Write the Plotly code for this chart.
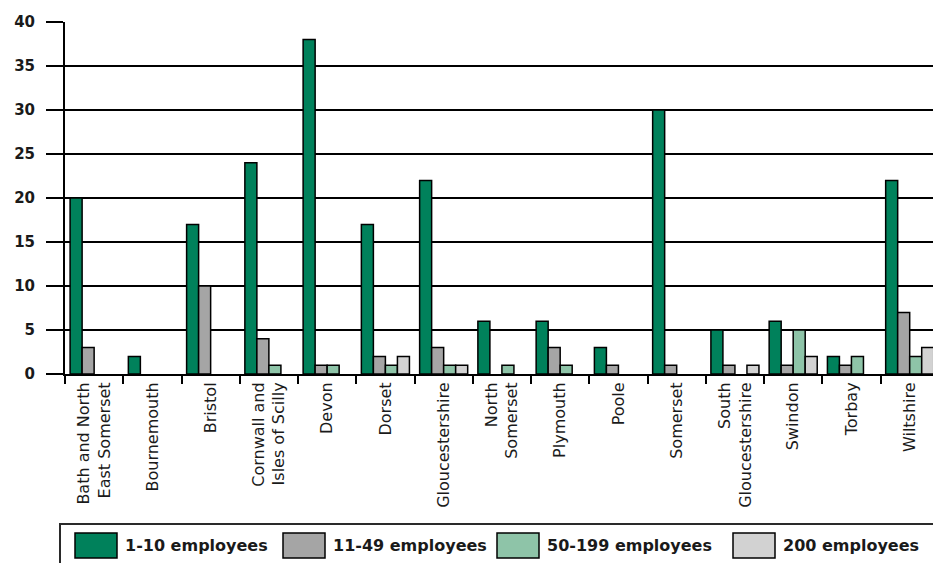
import plotly.graph_objects as go

# Authorities (x categories) and their two-line tick labels
areas = [
    "Bath and North East Somerset", "Bournemouth", "Bristol",
    "Cornwall and Isles of Scilly", "Devon", "Dorset", "Gloucestershire",
    "North Somerset", "Plymouth", "Poole", "Somerset",
    "South Gloucestershire", "Swindon", "Torbay", "Wiltshire",
]
area_labels = [
    "Bath and North<br>East Somerset", "Bournemouth", "Bristol",
    "Cornwall and<br>Isles of Scilly", "Devon", "Dorset", "Gloucestershire",
    "North<br>Somerset", "Plymouth", "Poole", "Somerset",
    "South<br>Gloucestershire", "Swindon", "Torbay", "Wiltshire",
]

# Number of businesses by size band
size_bands = ["1-10 employees", "11-49 employees", "50-199 employees", "200 employees"]
emp_1_10 = [20, 2, 17, 24, 38, 17, 22, 6, 6, 3, 30, 5, 6, 2, 22]
emp_11_49 = [3, 0, 10, 4, 1, 2, 3, 0, 3, 1, 1, 1, 1, 1, 7]
emp_50_199 = [0, 0, 0, 1, 1, 1, 1, 1, 1, 0, 0, 0, 5, 2, 2]
emp_200 = [0, 0, 0, 0, 0, 2, 1, 0, 0, 0, 0, 1, 2, 0, 3]

y_ticks = [0, 5, 10, 15, 20, 25, 30, 35, 40]

series = [emp_1_10, emp_11_49, emp_50_199, emp_200]
colors = ["#00815B", "#A5A5A5", "#8EC4A8", "#D2D2D2"]

W, H = 933, 563
M_L, M_R, M_T, M_B = 65, 0, 22, 189

fig = go.Figure()
for name, vals, col in zip(size_bands, series, colors):
    # empty bars get no outline so the baseline stays a single rule
    outline = [1.5 if v else 0 for v in vals]
    fig.add_trace(go.Bar(
        x=areas, y=vals, name=name,
        marker=dict(color=col, line=dict(color="#000000", width=outline)),
        showlegend=False,
    ))

tick_font = dict(family="DejaVu Sans", size=16, color="#1a1a1a")

fig.update_layout(
    width=W, height=H,
    margin=dict(l=M_L, r=M_R, t=M_T, b=M_B, pad=0),
    paper_bgcolor="white", plot_bgcolor="white",
    barmode="group", bargap=0.175, bargroupgap=0,
    xaxis=dict(
        type="category", range=[-0.5, 14.4],
        tickmode="array", tickvals=areas, ticktext=area_labels,
        tickangle=-90, tickfont=tick_font,
        showline=True, linecolor="#000000", linewidth=2,
        ticks="outside", tickson="boundaries", ticklen=8,
        tickwidth=2, tickcolor="#000000",
        showgrid=False, fixedrange=True,
    ),
    yaxis=dict(
        range=[0, 40], tickvals=y_ticks,
        tickfont=dict(family="DejaVu Sans", size=15, color="#1a1a1a", weight="bold"),
        showline=True, linecolor="#000000", linewidth=2,
        ticks="outside", ticklen=17, tickwidth=1.5, tickcolor="#000000",
        ticklabelstandoff=8,
        showgrid=True, gridcolor="#000000", gridwidth=1.5,
        zeroline=False, fixedrange=True,
    ),
)

# Legend drawn as a framed row of large swatches beneath the chart
pw = W - M_L - M_R
ph = H - M_T - M_B


def px_x(px):
    return (px - M_L) / pw


def px_y(py):
    return (H - M_B - py) / ph


fig.add_shape(type="rect", xref="paper", yref="paper",
              x0=px_x(60), x1=px_x(945), y0=px_y(524), y1=px_y(575),
              line=dict(color="#2a2a2a", width=2), fillcolor="rgba(0,0,0,0)")

swatch_left = [75, 283, 497, 733]
for name, col, sx in zip(size_bands, colors, swatch_left):
    fig.add_shape(type="rect", xref="paper", yref="paper",
                  x0=px_x(sx), x1=px_x(sx + 42), y0=px_y(558), y1=px_y(533),
                  line=dict(color="#000000", width=1.5), fillcolor=col)
    fig.add_annotation(xref="paper", yref="paper",
                       x=px_x(sx + 48), y=px_y(545.5),
                       xanchor="left", yanchor="middle", showarrow=False,
                       text=name,
                       font=dict(family="DejaVu Sans", size=16, color="#1a1a1a", weight="bold"))

fig.write_html("out.html")
